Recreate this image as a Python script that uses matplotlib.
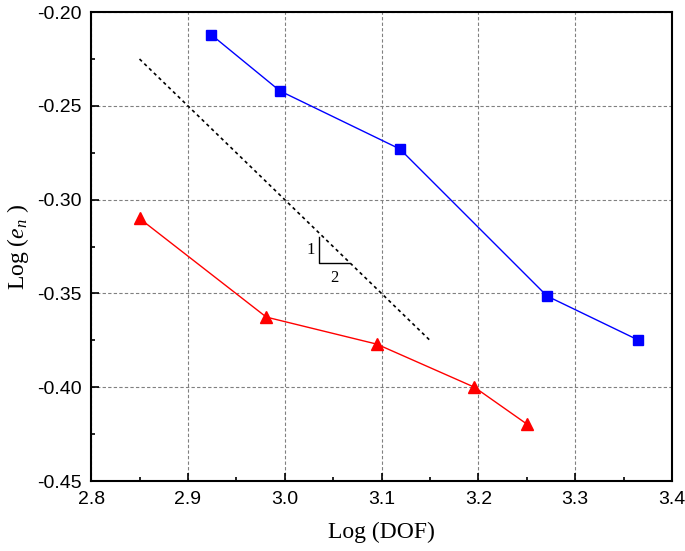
import matplotlib
matplotlib.use("Agg")
import matplotlib.pyplot as plt
from matplotlib.ticker import MultipleLocator

plt.rcParams['mathtext.fontset'] = 'custom'
plt.rcParams['mathtext.rm'] = 'Liberation Serif'
plt.rcParams['mathtext.it'] = 'Liberation Serif:italic'

# Data
blue_x = [2.924, 2.995, 3.119, 3.271, 3.365]
blue_y = [-0.212, -0.242, -0.273, -0.3514, -0.3748]
red_x = [2.850, 2.981, 3.095, 3.196, 3.250]
red_y = [-0.310, -0.3626, -0.377, -0.400, -0.4196]
slope_x = [2.85, 3.15]
slope_y = [-0.225, -0.375]
tri_x = [3.0355, 3.0355, 3.0665]
tri_y = [-0.320, -0.3338, -0.3338]

fig = plt.figure(figsize=(6.85, 5.51), dpi=100)
ax = fig.add_axes([0.133, 0.127, 0.848, 0.851])

ax.plot(blue_x, blue_y, color='#0000ff', lw=1.0, marker='s', ms=7, zorder=5)
ax.plot(red_x, red_y, color='#ff0000', lw=1.0, marker='^', ms=8, zorder=5)
ax.plot(slope_x, slope_y, color='black', lw=1.2, ls=(0, (2, 2)))
ax.plot(tri_x, tri_y, color='black', lw=1.0)
ax.text(3.027, -0.327, '1', family='Liberation Serif', fontsize=12, ha='center', va='center')
ax.text(3.051, -0.3415, '2', family='Liberation Serif', fontsize=12, ha='center', va='center')

ax.set_xlim(2.8, 3.4)
ax.set_ylim(-0.45, -0.20)
ax.xaxis.set_major_locator(MultipleLocator(0.1))
ax.xaxis.set_minor_locator(MultipleLocator(0.05))
ax.yaxis.set_major_locator(MultipleLocator(0.05))
ax.yaxis.set_minor_locator(MultipleLocator(0.025))
ax.set_xticklabels([f'{v:.1f}' for v in ax.get_xticks()])
ax.set_yticklabels([f'{v:.2f}' for v in ax.get_yticks()])
ax.tick_params(which='both', direction='in', top=False, right=False, width=1.2)
ax.tick_params(which='major', length=6, labelsize=14, pad=7)
ax.tick_params(which='minor', length=3)
for lab in ax.get_xticklabels() + ax.get_yticklabels():
    lab.set_family('Liberation Sans')
for s in ax.spines.values():
    s.set_linewidth(1.5)

ax.grid(True, which='major', color='gray', ls=(0, (3, 2)), lw=0.8)

ax.set_xlabel('Log (DOF)', family='Liberation Serif', fontsize=17, labelpad=10)
ax.set_ylabel(r'Log ($e_{n}$ )', family='Liberation Serif', fontsize=17, labelpad=4)

fig.savefig('out.png', dpi=100, facecolor='white')
